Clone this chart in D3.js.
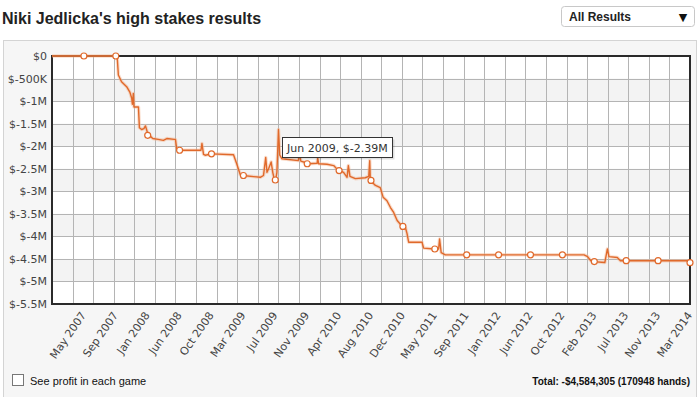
<!DOCTYPE html>
<html>
<head>
<meta charset="utf-8">
<script src="https://cdn.jsdelivr.net/npm/d3@7"></script>
<style>
  html, body { margin: 0; padding: 0; background: #fff; }
  svg { display: block; }
</style>
</head>
<body>
<div id="chart"></div>
<script>
// tick labels along the bottom (one per tick unit, 0..19)
var xLabels = ["May 2007", "Sep 2007", "Jan 2008", "Jun 2008", "Oct 2008", "Mar 2009",
  "Jul 2009", "Nov 2009", "Apr 2010", "Aug 2010", "Dec 2010", "May 2011", "Sep 2011",
  "Jan 2012", "Jun 2012", "Oct 2012", "Feb 2013", "Jul 2013", "Nov 2013", "Mar 2014"];

// y ticks in millions of dollars
var yTicks = [0, -0.5, -1, -1.5, -2, -2.5, -3, -3.5, -4, -4.5, -5, -5.5];
var yLabels = ["$0", "$-500K", "$-1M", "$-1.5M", "$-2M", "$-2.5M", "$-3M",
  "$-3.5M", "$-4M", "$-4.5M", "$-5M", "$-5.5M"];

// cumulative profit line: position (in tick units) and profit ($M)
var pointPos = [-1, 1.02, 1.05, 1.08, 1.18, 1.34, 1.44, 1.50, 1.52, 1.55, 1.57, 1.71, 1.74,
  1.81, 1.88, 1.93, 1.98, 2.05, 2.16, 2.33, 2.49, 2.60, 2.83, 2.87, 2.91, 3.05, 3.67,
  3.70, 3.75, 3.80, 4.01, 4.69, 4.79, 4.90, 4.98, 5.53, 5.63, 5.70, 5.74, 5.79, 5.87,
  5.92, 5.97, 6.01, 6.05, 6.10, 6.14, 6.21, 6.72, 6.76, 6.80, 6.89, 7.04, 7.31, 7.33,
  7.36, 7.62, 7.83, 7.91, 8.02, 8.14, 8.25, 8.29, 8.34, 8.51, 8.82, 8.93, 8.96, 8.98,
  9.14, 9.29, 9.38, 9.50, 9.61, 9.71, 9.82, 9.98, 10.08, 10.13, 10.18, 10.60, 10.65,
  10.97, 11.12, 11.15, 11.20, 11.33, 15.68, 15.79, 15.89, 15.96, 16.33, 16.41, 16.46,
  16.72, 16.82, 18.96, 19];
var pointProfit = [0, 0, -0.09, -0.42, -0.57, -0.68, -0.80, -0.94, -1.07, -0.83, -1.13, -1.13, -1.59,
  -1.63, -1.61, -1.55, -1.67, -1.76, -1.83, -1.85, -1.87, -1.83, -1.85, -1.85, -2.06, -2.09, -2.09,
  -1.94, -2.18, -2.20, -2.17, -2.19, -2.39, -2.63, -2.65, -2.69, -2.65, -2.25, -2.58, -2.50, -2.35,
  -2.58, -2.74, -2.75, -2.58, -1.63, -2.20, -2.28, -2.32, -2.17, -2.33, -2.35, -2.39, -2.38, -2.27,
  -2.39, -2.40, -2.43, -2.49, -2.54, -2.58, -2.69, -2.43, -2.67, -2.72, -2.70, -2.67, -2.32, -2.76,
  -2.87, -2.92, -3.13, -3.21, -3.36, -3.47, -3.65, -3.78, -3.81, -3.94, -4.13, -4.13, -4.26,
  -4.28, -4.28, -4.06, -4.36, -4.41, -4.41, -4.45, -4.54, -4.56, -4.58, -4.28, -4.45,
  -4.47, -4.54, -4.54, -4.584];

// profit at each labelled tick (open markers)
var markerProfit = [0, 0, -1.76, -2.09, -2.17, -2.65, -2.75, -2.39, -2.54, -2.76,
  -3.78, -4.28, -4.41, -4.41, -4.41, -4.41, -4.56, -4.54, -4.54, -4.584];

var tipText = "Jun 2009, $-2.39M";
var tipPos = 6.2, tipProfit = -2.39;

(function () {
var W = 700, H = 397;
var pLeft = 52, pRight = 690, pTop = 56, pBottom = 304;
var lineColor = "#e0692b";

var svg = d3.select("#chart").append("svg")
    .attr("width", W)
    .attr("height", H);

// title
svg.append("text")
    .attr("x", 2).attr("y", 24)
    .attr("font-family", "Liberation Sans, Arial, sans-serif")
    .attr("font-weight", "bold")
    .attr("font-size", 16)
    .attr("fill", "#222")
    .text("Niki Jedlicka's high stakes results");

// dropdown
var dd = svg.append("g");
dd.append("rect")
    .attr("x", 561.5).attr("y", 6.5).attr("width", 133).attr("height", 20).attr("rx", 3)
    .attr("fill", "#fff").attr("stroke", "#c8c8c8");
dd.append("text")
    .attr("x", 569).attr("y", 21)
    .attr("font-family", "Liberation Sans, Arial, sans-serif")
    .attr("font-weight", "bold").attr("font-size", 12).attr("fill", "#222")
    .text("All Results");
dd.append("text")
    .attr("x", 683).attr("y", 21).attr("text-anchor", "middle")
    .attr("font-family", "DejaVu Sans, sans-serif")
    .attr("font-size", 11).attr("fill", "#111")
    .text("\u25BC");

// outer panel
svg.append("rect")
    .attr("x", 3.5).attr("y", 40.5).attr("width", 693).attr("height", 360)
    .attr("fill", "#f6f6f6").attr("stroke", "#d4d4d4");

var x = d3.scaleLinear().domain([-1, 19]).range([pLeft, pRight]);
var y = d3.scaleLinear().domain([-5.5, 0]).range([pBottom, pTop]);

// plot background and bands
svg.append("rect")
    .attr("x", pLeft).attr("y", pTop).attr("width", pRight - pLeft).attr("height", pBottom - pTop)
    .attr("fill", "#fff");
svg.append("g").selectAll("rect")
    .data(d3.range(1, yTicks.length - 1, 2))
    .enter().append("rect")
    .attr("x", pLeft)
    .attr("y", function (i) { return y(yTicks[i]); })
    .attr("width", pRight - pLeft)
    .attr("height", function (i) { return y(yTicks[i + 1]) - y(yTicks[i]); })
    .attr("fill", "#f3f3f3");

// grid
var vGrid = d3.range(32).map(function (i) { return -1 + i * 20 / 31; });
svg.append("g").selectAll("line")
    .data(vGrid)
    .enter().append("line")
    .attr("x1", function (d) { return Math.round(x(d)) + 0.5; })
    .attr("x2", function (d) { return Math.round(x(d)) + 0.5; })
    .attr("y1", pTop).attr("y2", pBottom)
    .attr("stroke", "#b4b4b4");
svg.append("g").selectAll("line")
    .data(yTicks)
    .enter().append("line")
    .attr("x1", pLeft).attr("x2", pRight)
    .attr("y1", function (d) { return Math.round(y(d)) + 0.5; })
    .attr("y2", function (d) { return Math.round(y(d)) + 0.5; })
    .attr("stroke", "#b4b4b4");

// frame
svg.append("rect")
    .attr("x", pLeft).attr("y", pTop).attr("width", pRight - pLeft).attr("height", pBottom - pTop)
    .attr("fill", "none").attr("stroke", "#2a2a2a").attr("stroke-width", 2);

// axes
var yAxis = d3.axisLeft(y)
    .tickValues(yTicks)
    .tickFormat(function (d, i) { return yLabels[i]; })
    .tickSize(0)
    .tickPadding(4);
var gy = svg.append("g")
    .attr("transform", "translate(" + (pLeft - 1) + ",0)")
    .call(yAxis);
gy.select(".domain").remove();
gy.selectAll("text")
    .attr("font-family", "DejaVu Sans, Verdana, sans-serif")
    .attr("font-size", 11)
    .attr("fill", "#444");

var xAxis = d3.axisBottom(x)
    .tickValues(d3.range(xLabels.length))
    .tickFormat(function (d) { return xLabels[d]; })
    .tickSize(0);
var gx = svg.append("g")
    .attr("transform", "translate(0," + pBottom + ")")
    .call(xAxis);
gx.select(".domain").remove();
gx.selectAll("text")
    .attr("font-family", "DejaVu Sans, Verdana, sans-serif")
    .attr("font-size", 11)
    .attr("fill", "#444")
    .attr("text-anchor", "end")
    .attr("x", 0).attr("y", 0).attr("dy", "0.35em")
    .attr("transform", "translate(-1,9) rotate(-55)");

// profit line
var line = d3.line()
    .x(function (d, i) { return x(pointPos[i]); })
    .y(function (d) { return y(d); });
svg.append("path")
    .datum(pointProfit)
    .attr("d", line)
    .attr("fill", "none")
    .attr("stroke", "#f3b48f")
    .attr("stroke-width", 3.5)
    .attr("stroke-opacity", 0.45)
    .attr("stroke-linejoin", "round");
svg.append("path")
    .datum(pointProfit)
    .attr("d", line)
    .attr("fill", "none")
    .attr("stroke", lineColor)
    .attr("stroke-width", 1.4)
    .attr("stroke-linejoin", "round");

svg.append("g").selectAll("circle")
    .data(markerProfit)
    .enter().append("circle")
    .attr("cx", function (d, i) { return x(i); })
    .attr("cy", function (d) { return y(d); })
    .attr("r", 3)
    .attr("fill", "#fff")
    .attr("stroke", lineColor)
    .attr("stroke-width", 1.2);

// tooltip
var tip = svg.append("g")
    .attr("transform", "translate(" + Math.round(x(tipPos)) + "," + Math.round(y(tipProfit) - 27) + ")");
tip.append("rect")
    .attr("x", 2.5).attr("y", 2.5).attr("width", 110).attr("height", 20)
    .attr("fill", "#000").attr("fill-opacity", 0.12);
tip.append("rect")
    .attr("x", 0.5).attr("y", 0.5).attr("width", 110).attr("height", 20)
    .attr("fill", "#fff").attr("stroke", "#333");
tip.append("text")
    .attr("x", 5).attr("y", 14.5)
    .attr("font-family", "DejaVu Sans, Verdana, sans-serif")
    .attr("font-size", 11)
    .attr("fill", "#333")
    .text(tipText);

// footer
svg.append("rect")
    .attr("x", 12.5).attr("y", 374.5).attr("width", 11).attr("height", 11)
    .attr("fill", "#fff").attr("stroke", "#777");
svg.append("text")
    .attr("x", 30).attr("y", 385)
    .attr("font-family", "Liberation Sans, Arial, sans-serif")
    .attr("font-size", 11).attr("fill", "#111")
    .text("See profit in each game");
svg.append("text")
    .attr("x", 690).attr("y", 385).attr("text-anchor", "end")
    .attr("font-family", "Liberation Sans, Arial, sans-serif")
    .attr("font-weight", "bold")
    .attr("font-size", 10).attr("fill", "#111")
    .text("Total: -$4,584,305 (170948 hands)");
})();
</script>
</body>
</html>
